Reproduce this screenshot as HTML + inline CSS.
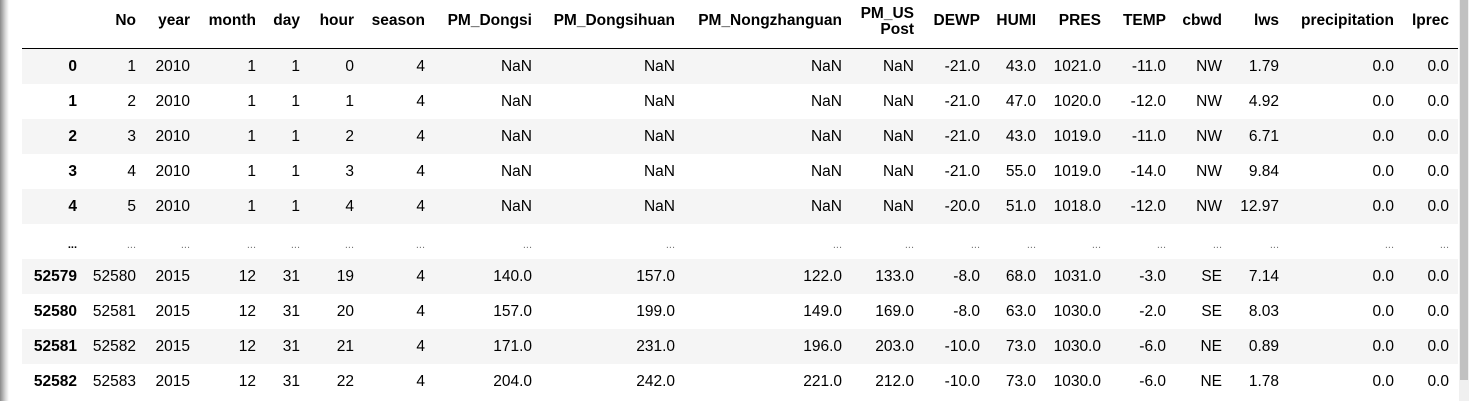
<!DOCTYPE html>
<html><head><meta charset="utf-8"><style>
html,body{margin:0;padding:0;background:#fff;width:1469px;height:401px;overflow:hidden;position:relative;font-family:"Liberation Sans",Arial,sans-serif;}
.c{position:absolute;white-space:nowrap;font-size:15.5px;color:#000;line-height:18px;text-align:right;}
.h{font-weight:bold;}
.stripe{position:absolute;left:22px;width:1436px;height:35px;background:#f5f5f5;}
</style></head><body>
<div style="position:absolute;left:0;top:0;width:9px;height:401px;background:linear-gradient(to right,#8a8a8a,#d8d8d8 60%,#fff);"></div>
<div style="position:absolute;left:1459px;top:0;width:10px;height:401px;background:#f0f0f0;"><div style="position:absolute;left:1px;top:0;width:8px;height:380px;background:#c1c1c1;"></div></div>
<div style="position:absolute;left:22px;top:48px;width:1436px;height:1px;background:#000;"></div>
<div id="t"></div>
<script>
const rights=[77,136,190,256,300,354,425,532,675,842,914,980,1036,1101,1166,1222,1279,1394,1449];
const headers=["","No","year","month","day","hour","season","PM_Dongsi","PM_Dongsihuan","PM_Nongzhanguan","PM_US Post","DEWP","HUMI","PRES","TEMP","cbwd","lws","precipitation","lprec"];
const rows=[
["0","1","2010","1","1","0","4","NaN","NaN","NaN","NaN","-21.0","43.0","1021.0","-11.0","NW","1.79","0.0","0.0"],
["1","2","2010","1","1","1","4","NaN","NaN","NaN","NaN","-21.0","47.0","1020.0","-12.0","NW","4.92","0.0","0.0"],
["2","3","2010","1","1","2","4","NaN","NaN","NaN","NaN","-21.0","43.0","1019.0","-11.0","NW","6.71","0.0","0.0"],
["3","4","2010","1","1","3","4","NaN","NaN","NaN","NaN","-21.0","55.0","1019.0","-14.0","NW","9.84","0.0","0.0"],
["4","5","2010","1","1","4","4","NaN","NaN","NaN","NaN","-20.0","51.0","1018.0","-12.0","NW","12.97","0.0","0.0"],
["...","...","...","...","...","...","...","...","...","...","...","...","...","...","...","...","...","...","..."],
["52579","52580","2015","12","31","19","4","140.0","157.0","122.0","133.0","-8.0","68.0","1031.0","-3.0","SE","7.14","0.0","0.0"],
["52580","52581","2015","12","31","20","4","157.0","199.0","149.0","169.0","-8.0","63.0","1030.0","-2.0","SE","8.03","0.0","0.0"],
["52581","52582","2015","12","31","21","4","171.0","231.0","196.0","203.0","-10.0","73.0","1030.0","-6.0","NE","0.89","0.0","0.0"],
["52582","52583","2015","12","31","22","4","204.0","242.0","221.0","212.0","-10.0","73.0","1030.0","-6.0","NE","1.78","0.0","0.0"]];
const t=document.getElementById('t');
function cell(txt,right,top,bold,name){
 const d=document.createElement('div');
 d.className='c'+(bold?' h':'');
 
 
 d.style.right=(1469-right)+'px';d.style.top=top+'px';
 d.textContent=txt;t.appendChild(d);return d;}
headers.forEach((h,i)=>{
 if(!h)return;
 if(h==="PM_US Post"){cell("PM_US",rights[i],5,true,'header-pm-us');cell("Post",rights[i],21,true,'header-post');}
 else cell(h,rights[i],12,true,'header-'+h.toLowerCase());
});
rows.forEach((r,ri)=>{
 const top=49+ri*35;
 if(ri%2===0){const s=document.createElement('div');s.className='stripe';s.style.top=top+'px';
 
 
 t.appendChild(s);}
 r.forEach((v,ci)=>{
  const d=cell(v,rights[ci],top+9,ci===0,ci===0?'row-index':'cell');
  if(v==="..."){d.style.color=ci===0?'#000':'#777';d.style.fontSize='11px';d.style.top=(top+12)+'px';}
 });
});
</script>
</body></html>
